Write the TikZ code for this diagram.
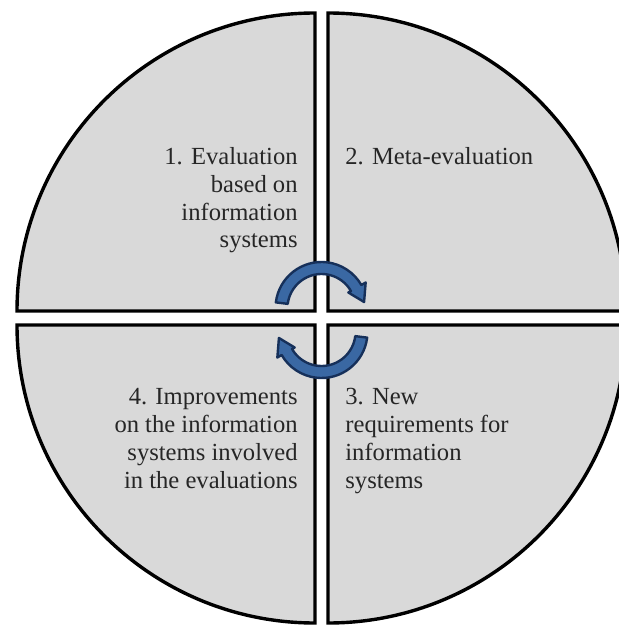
\documentclass[tikz,border=0pt]{standalone}
\usepackage{fontspec}
\setmainfont{Liberation Serif}
\usetikzlibrary{calc}
\definecolor{quadgray}{RGB}{217,217,217}
\definecolor{cycblue}{RGB}{58,104,163}
\definecolor{cycdark}{RGB}{22,48,90}
\tikzset{
  quad/.style={draw=black, line width=1.7pt, fill=quadgray, line join=miter},
  cyc/.style={draw=cycdark, line width=1.2pt, fill=cycblue, line join=round},
  steptext/.style={font=\fontsize{12.3}{13.9}\selectfont, text=black!85, inner sep=0pt},
}
\begin{document}
\begin{tikzpicture}[x=0.5pt,y=-0.5pt]
% Frame (image coordinates, y down)
\clip (0,0) rectangle (619,625);
\fill[white] (0,0) rectangle (619,625);

% Quadrants
\def\R{298}
\draw[quad] (315,311) -- (315-\R,311) arc[start angle=180,end angle=270,radius=\R] -- cycle;
\draw[quad] (328,311) -- (328,311-\R) arc[start angle=270,end angle=360,radius=\R] -- cycle;
\draw[quad] (328,325) -- (328+\R,325) arc[start angle=0,end angle=90,radius=\R] -- cycle;
\draw[quad] (315,325) -- (315,325+\R) arc[start angle=90,end angle=180,radius=\R] -- cycle;

% Cycle arrows
\coordinate (c1) at (321.5,308);
\coordinate (c2) at (321.5,332);
\filldraw[cyc] ($(c1)+(187:46)$) arc[start angle=187,end angle=330,radius=46]
  -- ($(c1)+(330:51)$) -- ($(c1)+(352:43)$) -- ($(c1)+(330:31)$) -- ($(c1)+(330:34)$)
  arc[start angle=330,end angle=187,radius=34] -- cycle;
\filldraw[cyc] ($(c2)+(7:46)$) arc[start angle=7,end angle=150,radius=46]
  -- ($(c2)+(150:51)$) -- ($(c2)+(172:43)$) -- ($(c2)+(150:31)$) -- ($(c2)+(150:34)$)
  arc[start angle=150,end angle=7,radius=34] -- cycle;

% Texts (base = last line)
\node[steptext, align=right, anchor=base east] (evaltext) at (298,248)
  {1. Evaluation\\based on\\information\\systems};
\node[steptext, align=left, anchor=base west] (metatext) at (345,165)
  {2. Meta-evaluation};
\node[steptext, align=left, anchor=base west] (reqtext) at (345,488)
  {3. New\\requirements for\\information\\systems};
\node[steptext, align=right, anchor=base east] (imprtext) at (298,488)
  {4. Improvements\\on the information\\systems involved\\in the evaluations};
\end{tikzpicture}
\end{document}
